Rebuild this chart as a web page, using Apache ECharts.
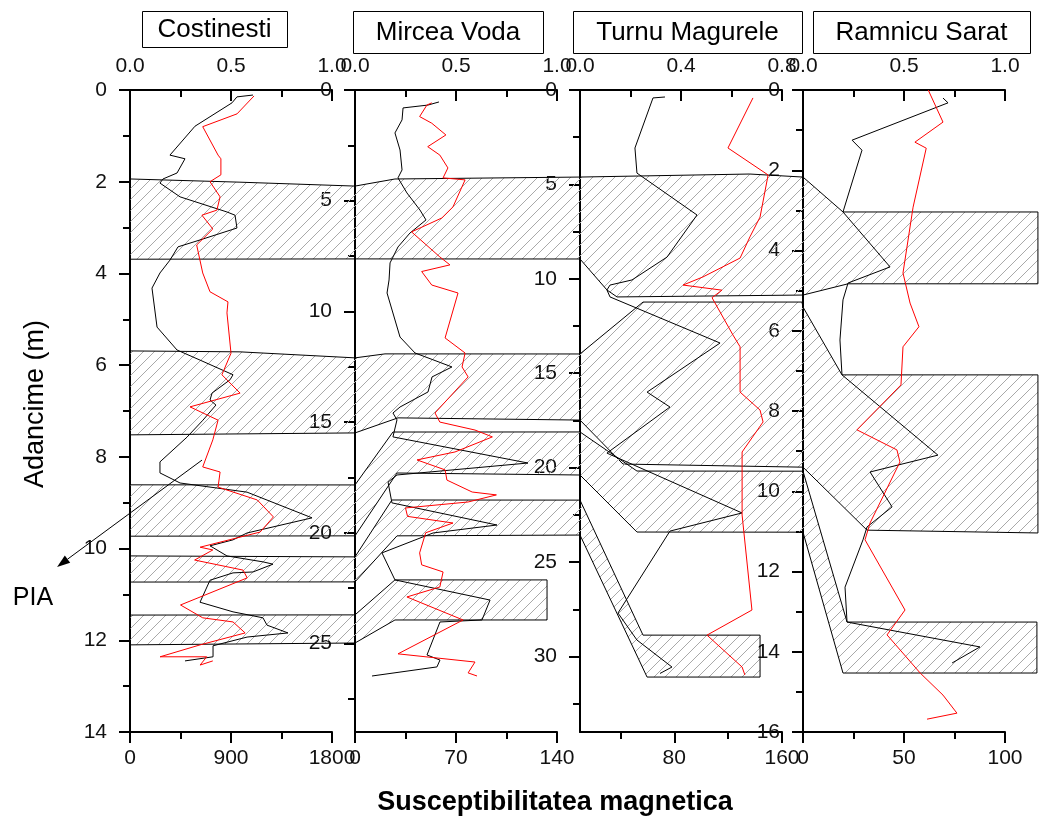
<!DOCTYPE html>
<html>
<head>
<meta charset="utf-8">
<script src="https://cdn.jsdelivr.net/npm/echarts@6/dist/echarts.min.js"></script>
<style>
html,body{margin:0;padding:0;background:#fff}
#main{width:1039px;height:821px}
</style>
</head>
<body>
<div id="main"></div>
<script>
// ---- sections ----
const sections = ['Costinesti', 'Mircea Voda', 'Turnu Magurele', 'Ramnicu Sarat'];

// ---- depth axes (m) ----
const depthMax = [14, 29, 34, 16];
const depthTicks = [
  [0, 2, 4, 6, 8, 10, 12, 14],
  [0, 5, 10, 15, 20, 25],
  [0, 5, 10, 15, 20, 25, 30],
  [0, 2, 4, 6, 8, 10, 12, 14, 16]
];
const depthMinor = [
  [1, 3, 5, 7, 9, 11, 13],
  [2.5, 7.5, 12.5, 17.5, 22.5, 27.5],
  [2.5, 7.5, 12.5, 17.5, 22.5, 27.5, 32.5],
  [1, 3, 5, 7, 9, 11, 13, 15]
];

// ---- bottom axes: magnetic susceptibility ----
const susRange = [[0, 1800], [0, 140], [10, 160], [0, 100]];
const susTicks = [[0, 900, 1800], [0, 70, 140], [80, 160], [0, 50, 100]];
const susMinor = [[450, 1350], [35, 105], [40, 120], [25, 75]];

// ---- top axes: ratio ----
const ratioRange = [[0, 1], [0, 1], [0, 0.8], [0, 1]];
const ratioTicks = [[0, 0.5, 1], [0, 0.5, 1], [0, 0.4, 0.8], [0, 0.5, 1]];
const ratioMinor = [[0.25, 0.75], [0.25, 0.75], [0.2, 0.6], [0.25, 0.75]];

// ---- profiles: [value, depth] ----
const costinestiSus = [[1096,0.11],[953,0.15],[909,0.28],[579,0.79],[356,1.42],[490,1.50],[419,1.81],[294,1.94],[267,2.03],[446,2.33],[864,2.66],[936,2.73],[953,3.01],[624,3.27],[428,3.42],[356,3.71],[267,3.99],[196,4.32],[241,5.17],[419,5.67],[624,5.89],[918,6.21],[891,6.32],[731,6.61],[713,6.76],[766,6.87],[650,7.20],[508,7.57],[267,8.11],[267,8.35],[446,8.57],[775,8.68],[1043,8.77],[1622,9.33],[1043,9.66],[918,9.81],[713,9.94],[864,10.16],[1185,10.29],[1274,10.34],[1096,10.51],[918,10.53],[713,10.69],[624,11.17],[918,11.38],[1185,11.51],[1221,11.67],[1408,11.84],[1043,11.93],[740,12.12],[740,12.36],[490,12.45]];
const costinestiRatio = [[0.614,0.13],[0.53,0.52],[0.36,0.80],[0.436,1.42],[0.45,1.50],[0.45,1.85],[0.396,2.0],[0.446,2.33],[0.43,2.62],[0.356,2.73],[0.41,3.03],[0.33,3.38],[0.36,3.99],[0.396,4.40],[0.485,4.62],[0.48,4.86],[0.50,5.74],[0.455,6.21],[0.545,6.61],[0.297,6.91],[0.436,7.20],[0.41,7.63],[0.36,8.22],[0.446,8.33],[0.436,8.66],[0.63,8.94],[0.71,9.31],[0.644,9.64],[0.347,9.97],[0.41,10.03],[0.32,10.25],[0.56,10.47],[0.58,10.64],[0.25,11.23],[0.36,11.51],[0.51,11.60],[0.57,11.84],[0.347,12.10],[0.149,12.36],[0.38,12.36],[0.347,12.54],[0.41,12.45]];

const mirceaSus = [[58.2,0.54],[50.6,0.68],[33.3,0.81],[32.6,1.35],[27.7,1.94],[31.2,2.71],[32.6,3.61],[29.8,3.97],[36.0,4.65],[45.0,5.42],[49.2,5.87],[38.1,6.46],[29.8,7.09],[24.3,7.81],[23.6,8.58],[22.2,9.17],[31.2,11.16],[41.6,11.88],[67.2,12.51],[53.4,12.96],[50.6,13.64],[31.2,14.32],[26.3,14.59],[29.1,14.9],[26.3,15.67],[119.9,16.85],[29.1,17.39],[22.9,17.71],[25.6,18.65],[98.4,19.65],[54.1,20.01],[18.7,20.91],[27.7,22.13],[93.6,23.04],[88.0,23.94],[58.9,24.03],[49.9,25.52],[58.9,25.75],[56.8,26.06],[11.8,26.47]];
const mirceaRatio = [[0.38,0.58],[0.356,0.68],[0.32,1.2],[0.38,1.5],[0.45,2.03],[0.36,2.56],[0.42,2.94],[0.46,3.52],[0.436,3.97],[0.545,4.06],[0.485,5.28],[0.43,5.78],[0.28,6.41],[0.42,7.54],[0.47,7.90],[0.33,8.2],[0.38,8.81],[0.51,9.17],[0.446,11.2],[0.545,11.88],[0.53,12.51],[0.56,12.96],[0.396,14.59],[0.42,15.0],[0.594,15.36],[0.68,15.67],[0.495,16.35],[0.307,16.71],[0.446,17.16],[0.455,17.62],[0.58,18.16],[0.70,18.29],[0.56,18.61],[0.25,18.88],[0.26,19.26],[0.485,19.56],[0.35,20.0],[0.32,20.91],[0.33,21.45],[0.436,21.77],[0.42,22.45],[0.257,22.9],[0.535,23.94],[0.213,25.47],[0.594,25.84],[0.56,26.33],[0.604,26.47]];

const turnuSus = [[73.1,0.37],[64.2,0.42],[50.8,3.07],[52.3,4.40],[96.9,6.62],[74.6,8.85],[48.6,10.06],[32.3,10.33],[30.0,10.59],[32.3,10.96],[114,13.4],[59.8,16.0],[76.8,16.79],[30.0,19.23],[130.3,22.40],[76.8,23.36],[38.2,27.7],[52.3,29.13],[78.3,30.56],[69.4,30.9]];
const turnuRatio = [[0.685,0.42],[0.586,3.07],[0.745,4.5],[0.713,6.73],[0.673,7.78],[0.634,8.9],[0.487,9.9],[0.408,10.33],[0.562,10.6],[0.523,11.0],[0.606,12.98],[0.634,13.6],[0.634,16.0],[0.713,16.95],[0.725,17.58],[0.642,19.17],[0.642,22.51],[0.681,27.54],[0.503,28.87],[0.642,30.56],[0.653,30.98]];

const ramnicuSus = [[69.3,0.2],[71.8,0.32],[24.3,1.25],[29.2,1.5],[19.8,3.04],[43.1,4.41],[22.3,4.81],[19.8,5.23],[18.3,6.23],[19.3,7.10],[66.8,9.10],[33.2,9.52],[44.1,10.39],[31.7,10.89],[29.7,11.21],[20.8,12.39],[21.8,13.26],[87.6,13.88],[73.8,14.28]];
const ramnicuRatio = [[0.62,0.0],[0.693,0.8],[0.554,1.3],[0.61,1.45],[0.545,2.92],[0.495,4.56],[0.53,5.31],[0.574,5.9],[0.495,6.4],[0.485,7.35],[0.267,8.47],[0.465,8.97],[0.48,9.27],[0.332,10.79],[0.307,11.21],[0.505,12.96],[0.416,13.58],[0.58,14.53],[0.693,15.08],[0.762,15.53],[0.614,15.68]];

const susData = [costinestiSus, mirceaSus, turnuSus, ramnicuSus];
const ratioData = [costinestiRatio, mirceaRatio, turnuRatio, ramnicuRatio];

// ---- correlated layers: [section, susceptibility, depth] ----
const layerA = [[0,0,1.94],[0,980,2.01],[1,0,4.34],[1,27.7,4.02],[2,10,4.61],[2,136,4.45],[3,0,2.17],[3,19.8,3.04],[3,116.3,3.04],[3,116.3,4.83],[3,22.3,4.83],[3,0,5.11],[2,37.5,10.96],[2,30.0,10.59],[2,10,8.95],[1,0,7.63],[0,0,3.69]];
const layerB = [[0,0,5.69],[0,980,5.71],[1,0,12.10],[1,20.8,11.92],[2,10,13.98],[2,56.8,11.23],[2,174.8,11.23],[3,0,5.41],[3,19.3,7.10],[3,116.3,7.10],[3,116.3,11.04],[3,31.7,10.97],[3,0,9.40],[2,41.9,19.81],[2,10,17.48],[1,29.8,14.81],[1,0,15.49],[0,0,7.52]];
const layerC = [[0,0,8.61],[1,0,17.84],[1,26.3,15.45],[2,10,18.11],[2,52.3,20.18],[3,0,9.50],[3,21.8,13.26],[3,115.8,13.26],[3,115.8,14.53],[3,19.8,14.53],[3,0,11.02],[2,52.3,23.41],[2,10,20.39],[1,29.1,17.30],[1,0,20.14],[0,0,9.73]];
const layerD = [[0,0,10.16],[1,0,21.09],[1,25.6,18.52],[2,10,21.72],[2,56.8,28.87],[2,143.7,28.87],[2,143.7,31.09],[2,59.8,31.09],[2,10,23.57],[1,29.1,20.14],[1,0,22.22],[0,0,10.73]];
const layerE = [[0,0,11.45],[1,0,23.71],[1,27.7,22.13],[1,133.1,22.13],[1,133.1,23.94],[1,27.7,23.94],[1,0,24.98],[0,0,12.10]];
const layers = [layerA, layerB, layerC, layerD, layerE];

// PIA pointer, in Costinesti coordinates [susceptibility, depth]
const piaFrom = [642, 8.07];
const piaTo = [-650, 10.40];

const FONT = "'Liberation Sans', Arial, Helvetica, sans-serif";
const panelLeft = [130, 355, 580, 803];

const chart = echarts.init(document.getElementById('main'), null, { renderer: 'canvas' });

const grids = panelLeft.map(l => ({ left: l, top: 90, width: 202, height: 642, outerBoundsMode: 'none', containLabel: false }));

const lineStyle = { color: '#000', width: 2 };
function labelStyle(extra) {
  return Object.assign({ color: '#111', fontSize: 21, fontFamily: FONT }, extra);
}
function xMajor(i, pos, range, ticks, fmt) {
  return {
    type: 'value', gridIndex: i, position: pos, min: range[0], max: range[1],
    splitLine: { show: false },
    axisLine: { show: true, onZero: false, lineStyle },
    axisTick: { show: true, inside: pos === 'top', length: 11, customValues: ticks, lineStyle },
    minorTick: { show: false },
    axisLabel: labelStyle({ customValues: ticks, formatter: fmt, margin: pos === 'top' ? 13 : 16 })
  };
}
function xMinor(i, pos, range, ticks) {
  return {
    type: 'value', gridIndex: i, position: pos, min: range[0], max: range[1],
    splitLine: { show: false },
    axisLine: { show: false, onZero: false },
    axisTick: { show: true, inside: pos === 'top', length: 7, customValues: ticks, lineStyle },
    axisLabel: { show: false }
  };
}
function yMajor(i) {
  return {
    type: 'value', gridIndex: i, position: 'left', inverse: true, min: 0, max: depthMax[i],
    splitLine: { show: false },
    axisLine: { show: true, onZero: false, lineStyle },
    axisTick: { show: true, length: 11, customValues: depthTicks[i], lineStyle },
    minorTick: { show: false },
    axisLabel: labelStyle({ customValues: depthTicks[i], margin: 23, formatter: v => String(v) })
  };
}
function yMinor(i) {
  return {
    type: 'value', gridIndex: i, position: 'left', inverse: true, min: 0, max: depthMax[i],
    splitLine: { show: false },
    axisLine: { show: false, onZero: false },
    axisTick: { show: true, length: 7, customValues: depthMinor[i], lineStyle },
    axisLabel: { show: false }
  };
}

const xAxes = [], yAxes = [], series = [];
sections.forEach((name, i) => {
  xAxes.push(xMajor(i, 'bottom', susRange[i], susTicks[i], v => String(v)));
  xAxes.push(xMinor(i, 'bottom', susRange[i], susMinor[i]));
  xAxes.push(xMajor(i, 'top', ratioRange[i], ratioTicks[i], v => Number(v).toFixed(1)));
  xAxes.push(xMinor(i, 'top', ratioRange[i], ratioMinor[i]));
  yAxes.push(yMajor(i));
  yAxes.push(yMinor(i));
  series.push({
    type: 'line', name: name, xAxisIndex: 4 * i, yAxisIndex: 2 * i, data: susData[i],
    symbol: 'none', z: 3, silent: true, lineStyle: { color: '#000', width: 1 }
  });
  series.push({
    type: 'line', name: name, xAxisIndex: 4 * i + 2, yAxisIndex: 2 * i, data: ratioData[i],
    symbol: 'none', z: 4, silent: true, lineStyle: { color: '#ff0000', width: 1 }
  });
});

chart.setOption({
  animation: false,
  backgroundColor: '#fff',
  grid: grids,
  xAxis: xAxes,
  yAxis: yAxes,
  series: series
});

// diagonal hatch tile
function hatchTile() {
  const s = 11;
  const c = document.createElement('canvas');
  c.width = s; c.height = s;
  const g = c.getContext('2d');
  g.strokeStyle = '#a9a9a9';
  g.lineWidth = 1;
  g.beginPath();
  g.moveTo(-1, s + 1); g.lineTo(s + 1, -1);
  g.moveTo(-1, 1); g.lineTo(1, -1);
  g.moveTo(s - 1, s + 1); g.lineTo(s + 1, s - 1);
  g.stroke();
  return c;
}
const hatch = { image: hatchTile(), repeat: 'repeat' };
const toPx = (sec, v, d) => chart.convertToPixel({ seriesIndex: 2 * sec }, [v, d]);

const graphics = [];
layers.forEach(layer => {
  graphics.push({
    type: 'polygon', z: 1, silent: true,
    shape: { points: layer.map(p => toPx(p[0], p[1], p[2])) },
    style: { fill: hatch, stroke: '#000', lineWidth: 1 }
  });
});

// PIA pointer
const a0 = toPx(0, piaFrom[0], piaFrom[1]);
const a1 = toPx(0, piaTo[0], piaTo[1]);
const ang = Math.atan2(a1[1] - a0[1], a1[0] - a0[0]);
const hl = 13, hw = 4.5;
const bx = a1[0] - hl * Math.cos(ang), by = a1[1] - hl * Math.sin(ang);
graphics.push({ type: 'line', z: 5, silent: true, shape: { x1: a0[0], y1: a0[1], x2: bx, y2: by }, style: { stroke: '#000', lineWidth: 1 } });
graphics.push({
  type: 'polygon', z: 5, silent: true,
  shape: { points: [a1, [bx - hw * Math.sin(ang), by + hw * Math.cos(ang)], [bx + hw * Math.sin(ang), by - hw * Math.cos(ang)]] },
  style: { fill: '#000' }
});
graphics.push({ type: 'text', z: 5, silent: true, x: 33, y: 598, style: { text: 'PIA', font: '25px ' + FONT, fill: '#000', align: 'center', verticalAlign: 'middle' } });

// section titles in boxes
const titleBoxes = [[142, 11, 145, 36], [353, 11, 190, 42], [573, 11, 229, 42], [813, 11, 217, 42]];
sections.forEach((name, i) => {
  const b = titleBoxes[i];
  graphics.push({ type: 'rect', z: 5, silent: true, shape: { x: b[0] + 0.5, y: b[1] + 0.5, width: b[2], height: b[3] }, style: { fill: '#fff', stroke: '#000', lineWidth: 1 } });
  graphics.push({ type: 'text', z: 6, silent: true, x: b[0] + b[2] / 2, y: b[1] + b[3] / 2 + 1, style: { text: name, font: '26px ' + FONT, fill: '#000', align: 'center', verticalAlign: 'middle' } });
});

// axis names
graphics.push({ type: 'text', z: 5, silent: true, x: 36, y: 404, rotation: Math.PI / 2, style: { text: 'Adancime (m)', font: '27px ' + FONT, fill: '#000', align: 'center', verticalAlign: 'middle' } });
graphics.push({ type: 'text', z: 5, silent: true, x: 555, y: 803, style: { text: 'Susceptibilitatea magnetica', font: 'bold 27px ' + FONT, fill: '#000', align: 'center', verticalAlign: 'middle' } });

chart.setOption({ graphic: graphics });
</script>
</body>
</html>
